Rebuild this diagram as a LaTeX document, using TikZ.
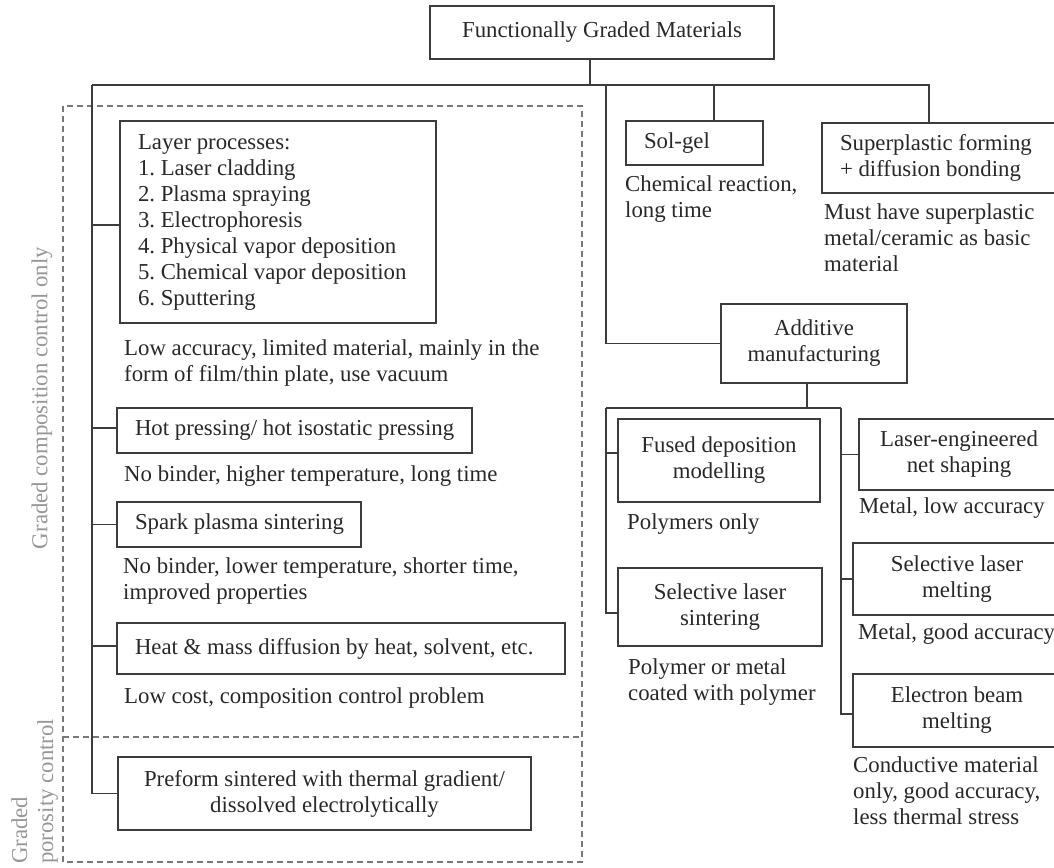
\documentclass[tikz,border=0pt]{standalone}
\usepackage{fontspec}
\setmainfont{Liberation Serif}
\usetikzlibrary{calc}
\definecolor{ln}{RGB}{60,60,60}
\definecolor{txt}{RGB}{40,40,40}
\definecolor{lbl}{RGB}{150,150,150}
\definecolor{dsh}{RGB}{120,120,120}
\begin{document}
\begin{tikzpicture}[x=1pt,y=-1pt,
  every node/.style={font=\fontsize{22.8}{26}\selectfont\frenchspacing, text=txt},
  box/.style={draw=ln, line width=1.4pt, inner sep=0pt, align=center},
  lbox/.style={draw=ln, line width=1.4pt, inner sep=0pt, align=left,
    execute at begin node={\leftskip=18pt\relax\spaceskip=0pt\relax\xspaceskip=0pt\relax\hyphenpenalty=10000\relax}},
  capt/.style={anchor=north west, inner sep=0pt, align=left},
  conn/.style={draw=ln, line width=1.4pt},
  region/.style={draw=dsh, line width=1.2pt, dash pattern=on 6pt off 4pt},
  side/.style={text=lbl, inner sep=0pt, rotate=90}]
\useasboundingbox (0,0) rectangle (1054,867);
\clip (0,0) rectangle (1054,867);

% dashed regions
\draw[region] (63,106) rectangle (582,862);
\draw[region] (63,737) -- (582,737);
\node[side] (gcomp) at (42,398) {Graded composition control only};
\node[side, anchor=north west, align=left] (gpor) at (11,864) {Graded\\porosity control};

% boxes
\node[box, minimum width=344pt, minimum height=53pt] (fgm) at (602,32.5) {Functionally Graded Materials};
\node[lbox, minimum height=44pt, text width=137pt] (solgel) at (694.5,143) {Sol-gel};
\node[lbox, minimum height=70pt, text width=250pt] (super) at (947,158) {Superplastic forming\\+ diffusion bonding};
\node[lbox, minimum height=202pt, text width=316pt] (layer) at (278,222) {Layer processes:\\1. Laser cladding\\2. Plasma spraying\\3. Electrophoresis\\4. Physical vapor deposition\\5. Chemical vapor deposition\\6. Sputtering};
\node[lbox, minimum height=45pt, text width=355pt] (hot) at (294.5,430.5) {Hot pressing/ hot isostatic pressing};
\node[lbox, minimum height=45pt, text width=244pt] (spark) at (239,524.5) {Spark plasma sintering};
\node[lbox, minimum height=51pt, text width=448pt] (heat) at (341,648.5) {Heat \& mass diffusion by heat, solvent, etc.};
\node[box, minimum width=413pt, minimum height=73pt] (preform) at (324.5,793.5) {Preform sintered with thermal gradient/\\dissolved electrolytically};
\node[box, minimum width=186pt, minimum height=79pt] (additive) at (814,343.5) {Additive\\manufacturing};
\node[box, minimum width=202pt, minimum height=83pt] (fdm) at (719,460.5) {Fused deposition\\modelling};
\node[box, minimum width=204pt, minimum height=78pt] (sls) at (720,607) {Selective laser\\sintering};
\node[box, minimum width=200pt, minimum height=71pt] (lens) at (959,454.5) {Laser-engineered\\net shaping};
\node[box, minimum width=208pt, minimum height=72pt] (slm) at (957,579) {Selective laser\\melting};
\node[box, minimum width=208pt, minimum height=73pt] (ebm) at (957,710.5) {Electron beam\\melting};

% captions
\node[capt] (chem) at (625,175) {Chemical reaction,\\long time};
\node[capt] (must) at (824,203) {Must have superplastic\\metal/ceramic as basic\\material};
\node[capt] (lowacc) at (124,339) {Low accuracy, limited material, mainly in the\\form of film/thin plate, use vacuum};
\node[capt] (nobind1) at (124,465) {No binder, higher temperature, long time};
\node[capt] (nobind2) at (123,557) {No binder, lower temperature, shorter time,\\improved properties};
\node[capt] (lowcost) at (124,687) {Low cost, composition control problem};
\node[capt] (polyonly) at (627,513) {Polymers only};
\node[capt] (polymetal) at (628,658) {Polymer or metal\\coated with polymer};
\node[capt] (metallow) at (859,497) {Metal, low accuracy};
\node[capt] (metalgood) at (858,623) {Metal, good accuracy};
\node[capt] (conduct) at (853,756) {Conductive material\\only, good accuracy,\\less thermal stress};

% connector points
\coordinate (top) at (590,85);
\coordinate (busL) at (92,85);
\coordinate (busR) at (929,85);
\coordinate (busM) at (606,85);
\coordinate (busS) at (714,85);
\coordinate (amid) at (807,408);
\coordinate (aL) at (606,408);
\coordinate (aR) at (841,408);

% connectors
\draw[conn] (fgm.south -| top) -- (top);
\draw[conn] (busL) -- (busR) -- (busR |- super.north);
\draw[conn] (busS) -- (busS |- solgel.north);
\draw[conn] (busM) |- (additive.west);
\draw[conn] (busL) |- (preform.west);
\draw[conn] ([yshift=-3pt]layer.west -| busL) -- ([yshift=-3pt]layer.west);
\draw[conn] ([yshift=2.5pt]hot.west -| busL) -- ([yshift=2.5pt]hot.west);
\draw[conn] (spark.west -| busL) -- (spark.west);
\draw[conn] ([yshift=2.5pt]heat.west -| busL) -- ([yshift=2.5pt]heat.west);
\draw[conn] (additive.south -| amid) -- (amid);
\draw[conn] (aL) -- (aR);
\draw[conn] (aL) |- ([yshift=-6pt]sls.west);
\draw[conn] ([yshift=7.5pt]fdm.west -| aL) -- ([yshift=7.5pt]fdm.west);
\draw[conn] (aR) |- ([yshift=-3.5pt]ebm.west);
\draw[conn] (lens.west -| aR) -- (lens.west);
\draw[conn] (slm.west -| aR) -- (slm.west);
\end{tikzpicture}
\end{document}
